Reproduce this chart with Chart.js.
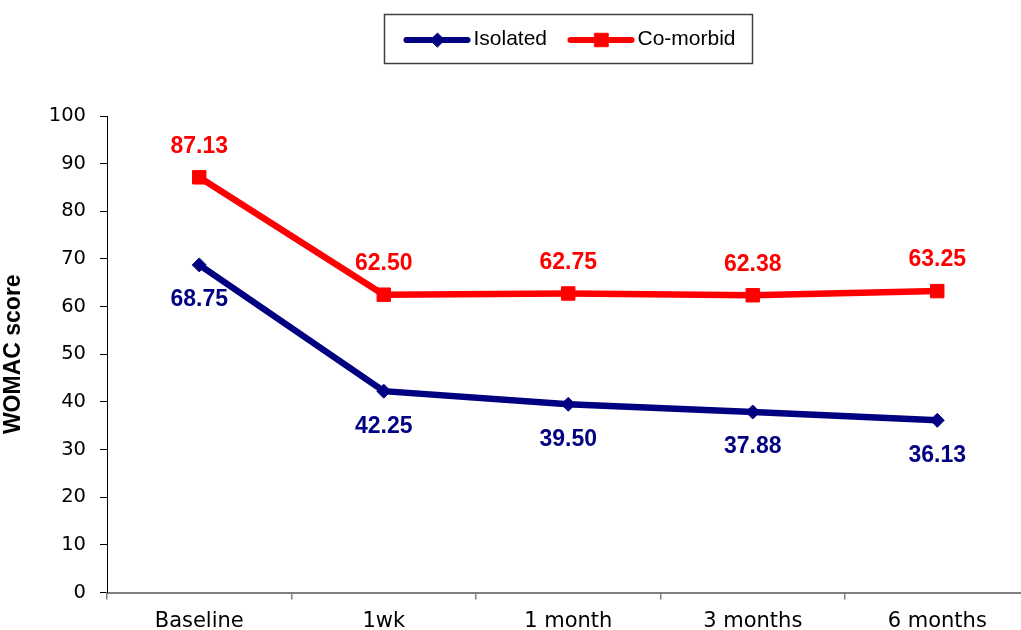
<!DOCTYPE html>
<html>
<head>
<meta charset="utf-8">
<script src="https://cdn.jsdelivr.net/npm/chart.js@4/dist/chart.umd.min.js"></script>
<style>
  html, body { margin: 0; padding: 0; background: #fff; overflow: hidden; width: 1021px; height: 630px; }
  #wrap { position: absolute; left: 0; top: 0; width: 1040px; height: 630px; }
</style>
</head>
<body>
<div id="wrap"><canvas id="c" width="1040" height="630"></canvas></div>
<script>
// Time points and mean WOMAC scores per group
const categories = ['Baseline', '1wk', '1 month', '3 months', '6 months'];
const isolated = [68.75, 42.25, 39.50, 37.88, 36.13];
const comorbid = [87.13, 62.50, 62.75, 62.38, 63.25];
const seriesNames = ['Isolated', 'Co-morbid'];
const yMin = 0, yMax = 100, yStep = 10;

const NAVY = '#000080';
const RED = '#FF0000';

// Value labels above / below each point
const valueLabels = {
  id: 'valueLabels',
  afterDatasetsDraw(chart) {
    const ctx = chart.ctx;
    chart.data.datasets.forEach((ds, i) => {
      const meta = chart.getDatasetMeta(i);
      ctx.save();
      ctx.font = 'bold 23px "Liberation Sans", Arial, sans-serif';
      ctx.fillStyle = ds.borderColor;
      ctx.textAlign = 'center';
      ctx.textBaseline = 'middle';
      meta.data.forEach((pt, j) => {
        ctx.fillText(ds.data[j].toFixed(2), pt.x, pt.y + ds.labelShift);
      });
      ctx.restore();
    });
  }
};

// Boxed legend at the top, line sample with marker then name
const boxedLegend = {
  id: 'boxedLegend',
  afterDraw(chart) {
    const ctx = chart.ctx;
    ctx.save();
    ctx.strokeStyle = '#404040';
    ctx.lineWidth = 1.5;
    ctx.strokeRect(384.5, 14.5, 368, 49);
    const starts = [406.5, 570.5];
    const y = 40;
    chart.data.datasets.forEach((ds, i) => {
      const x0 = starts[i];
      ctx.strokeStyle = ds.borderColor;
      ctx.lineWidth = 6;
      ctx.lineCap = 'round';
      ctx.beginPath();
      ctx.moveTo(x0, y);
      ctx.lineTo(x0 + 61, y);
      ctx.stroke();
      ctx.fillStyle = ds.pointBackgroundColor;
      ctx.strokeStyle = ds.pointBorderColor;
      ctx.lineWidth = ds.pointBorderWidth;
      Chart.helpers.drawPoint(ctx, {
        pointStyle: ds.pointStyle,
        radius: ds.pointRadius,
        rotation: 0,
        borderWidth: ds.pointBorderWidth
      }, x0 + 31, y);
      ctx.fillStyle = '#000';
      ctx.font = '21px "Liberation Sans", Arial, sans-serif';
      ctx.textAlign = 'left';
      ctx.textBaseline = 'middle';
      ctx.fillText(ds.label, x0 + 67, y - 0.5);
    });
    ctx.restore();
  }
};

new Chart(document.getElementById('c'), {
  type: 'line',
  data: {
    labels: categories,
    datasets: [
      {
        label: seriesNames[0],
        data: isolated,
        borderColor: NAVY,
        backgroundColor: NAVY,
        borderWidth: 6.5,
        pointStyle: 'rectRot',
        pointRadius: 7,
        pointBorderWidth: 1,
        pointBackgroundColor: NAVY,
        pointBorderColor: NAVY,
        tension: 0,
        fill: false,
        labelShift: 35
      },
      {
        label: seriesNames[1],
        data: comorbid,
        borderColor: RED,
        backgroundColor: RED,
        borderWidth: 6.5,
        pointStyle: 'rect',
        pointRadius: 9.5,
        pointBorderWidth: 1,
        pointBackgroundColor: RED,
        pointBorderColor: RED,
        tension: 0,
        fill: false,
        labelShift: -31
      }
    ]
  },
  options: {
    responsive: false,
    animation: false,
    devicePixelRatio: 1,
    layout: { padding: { left: 0, right: 10, top: 116, bottom: 0 } },
    plugins: {
      legend: { display: false },
      tooltip: { enabled: false }
    },
    scales: {
      x: {
        type: 'category',
        offset: true,
        grid: { offset: true, drawOnChartArea: false, tickLength: 7, color: '#808080', lineWidth: 1.5 },
        border: { color: '#808080', width: 2 },
        ticks: {
          color: '#000',
          font: { family: '"DejaVu Sans"', size: 21 },
          padding: 9,
          maxRotation: 0,
          autoSkip: false
        },
        afterFit(scale) { scale.height = 37.5; }
      },
      y: {
        min: yMin,
        max: yMax,
        ticks: {
          stepSize: yStep,
          color: '#000',
          font: { family: '"DejaVu Sans"', size: 19.5 },
          padding: 14
        },
        grid: { drawOnChartArea: false, tickLength: 7, color: '#000', lineWidth: 1 },
        border: { color: '#000', width: 1 },
        title: {
          display: true,
          text: 'WOMAC score',
          color: '#000',
          font: { family: '"Liberation Sans"', size: 23, weight: 'bold' },
          padding: { top: 0, bottom: 0 }
        },
        afterFit(scale) { scale.width = 107; }
      }
    }
  },
  plugins: [valueLabels, boxedLegend]
});
</script>
</body>
</html>
